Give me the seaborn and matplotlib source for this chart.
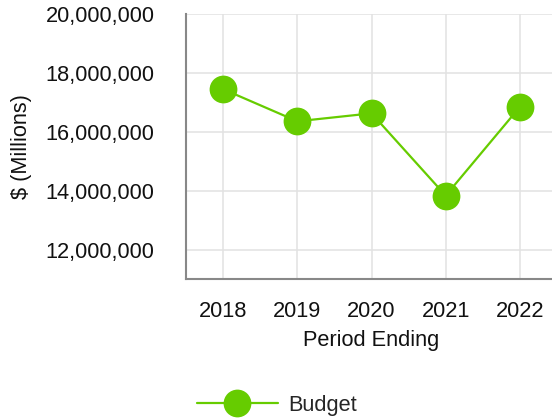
import matplotlib
matplotlib.use("Agg")
import matplotlib.pyplot as plt
import matplotlib.ticker as mticker
import seaborn as sns
import pandas as pd

# values
years = ["2018", "2019", "2020", "2021", "2022"]
budget = [17450000, 16360000, 16630000, 13840000, 16850000]
y_ticks = [12000000, 14000000, 16000000, 18000000, 20000000]

GREEN = "#66cc00"
AXIS_GRAY = "#888888"
GRID_GRAY = "#e2e2e2"
FS = 15.7

sns.set_style("white")
plt.rcParams["font.family"] = ["Liberation Sans", "DejaVu Sans"]
plt.rcParams["font.size"] = FS

df = pd.DataFrame({"Period Ending": years, "Budget": budget})

fig = plt.figure(figsize=(5.52, 4.2), dpi=100)
ax = fig.add_axes([186 / 552, 1 - 279.3 / 420, (557 - 186) / 552, (279.3 - 14) / 420])

sns.lineplot(data=df, x="Period Ending", y="Budget", ax=ax, color=GREEN,
             linewidth=1.6, marker="o", markersize=20, markeredgewidth=0,
             label="Budget", zorder=3)

ax.set_xlim(-0.5, 4.5)
ax.set_ylim(11000000, 20000000)
ax.set_yticks(y_ticks)
ax.yaxis.set_major_formatter(mticker.FuncFormatter(lambda v, p: f"{v:,.0f}"))

ax.grid(True, color=GRID_GRAY, linewidth=1.1, zorder=0)
ax.set_axisbelow(True)
for side in ["top", "right"]:
    ax.spines[side].set_visible(False)
for side in ["left", "bottom"]:
    ax.spines[side].set_color(AXIS_GRAY)
    ax.spines[side].set_linewidth(1.5)
ax.tick_params(axis="both", colors=AXIS_GRAY, length=7.7, width=1.5,
               labelcolor="#111111", labelsize=FS)
ax.tick_params(axis="y", pad=15)
ax.tick_params(axis="x", pad=8)

ax.set_xlabel("Period Ending", fontsize=FS, color="#111111", labelpad=6)
ax.set_ylabel("$ (Millions)", fontsize=FS, color="#111111", labelpad=10)

ax.legend(loc="center", bbox_to_anchor=(277 / 552, 1 - 405 / 420),
          bbox_transform=fig.transFigure, frameon=False, fontsize=FS,
          handlelength=3.7, handletextpad=0.5)

fig.savefig("out.png", dpi=100)
